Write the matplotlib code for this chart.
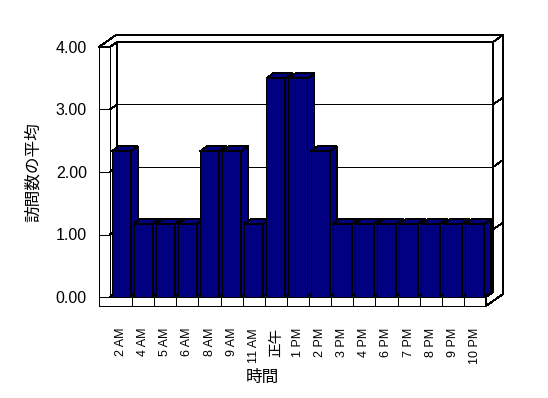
import matplotlib
matplotlib.use('Agg')
import matplotlib.pyplot as plt
from matplotlib.patches import Polygon
from matplotlib import font_manager

plt.rcParams['font.family'] = ['Liberation Sans', 'Noto Sans CJK JP', 'DejaVu Sans']

categories = ['2 AM', '4 AM', '5 AM', '6 AM', '8 AM', '9 AM', '11 AM', '正午',
              '1 PM', '2 PM', '3 PM', '4 PM', '6 PM', '7 PM', '8 PM', '9 PM', '10 PM']
values = [2.33, 1.17, 1.17, 1.17, 2.33, 2.33, 1.17, 3.5,
          3.5, 2.33, 1.17, 1.17, 1.17, 1.17, 1.17, 1.17, 1.17]
y_ticks = [0, 1, 2, 3, 4]
y_label = '訪問数の平均'
x_label = '時間'

names = {f.name for f in font_manager.fontManager.ttflist}
narrow = 'Liberation Sans Narrow' in names

W, H = 548, 398
fig = plt.figure(figsize=(W / 100, H / 100), dpi=100)
fig.patch.set_facecolor('white')
n = len(categories)
ax_l, ax_b, ax_w, ax_h = 110, 297, 376, 250  # pixels (bottom measured from top)
ax = fig.add_axes([ax_l / W, (H - ax_b) / H, ax_w / W, ax_h / H])
ax.set_xlim(-0.5, n - 0.5)
ax.set_ylim(y_ticks[0], y_ticks[-1])
for s in ax.spines.values():
    s.set_visible(False)
ax.patch.set_visible(False)

px_x = ax_w / n
px_y = ax_h / (y_ticks[-1] - y_ticks[0])
zf = (7 / px_x, 5 / px_y)      # depth of floor / bars
zb = (17 / px_x, 12 / px_y)    # depth including back-wall thickness
ft = 9 / px_y                  # floor thickness
X1 = -0.5
X0 = X1 - 11 / px_x
X2 = n - 0.5
YT = y_ticks[-1]

def P(x, y, d=(0, 0)):
    return (x + d[0], y + d[1])

LW = 0.7
navy = '#000080'

def poly(pts, fc, z):
    p = Polygon(pts, closed=True, facecolor=fc, edgecolor='black', linewidth=LW,
                zorder=z, clip_on=False, antialiased=False, joinstyle='miter')
    ax.add_patch(p)

def line(p1, p2, z=3):
    ax.plot([p1[0], p2[0]], [p1[1], p2[1]], color='black', linewidth=LW,
            zorder=z, clip_on=False, antialiased=False, solid_capstyle='butt')

# back wall front face
poly([P(X1, 0, zf), P(X2, 0, zf), P(X2, YT, zf), P(X1, YT, zf)], 'white', 1)
# top of left wall + back wall
poly([P(X0, YT), P(X1, YT), P(X1, YT, zf), P(X2, YT, zf), P(X2, YT, zb), P(X0, YT, zb)], 'white', 1)
# left wall inner face
poly([P(X1, 0), P(X1, YT), P(X1, YT, zf), P(X1, 0, zf)], 'white', 1)
# left wall front + floor front
poly([P(X0, YT), P(X0, -ft), P(X2, -ft), P(X2, 0), P(X1, 0), P(X1, YT)], 'white', 1)
# floor top
poly([P(X1, 0), P(X2, 0), P(X2, 0, zf), P(X1, 0, zf)], 'white', 1)
# right face
poly([P(X2, 0), P(X2, -ft), P(X2, -ft, zb), P(X2, YT, zb), P(X2, YT, zf), P(X2, 0, zf)], 'white', 1)

for yv in y_ticks:
    line(P(X0, yv), P(X1, yv))
    if 0 < yv < YT:
        line(P(X1, yv, zf), P(X2, yv, zf))
        line(P(X1, yv), P(X1, yv, zf))
        line(P(X2, yv, zf), P(X2, yv, zb))
for i in range(n - 1):
    line(P(i + 0.5, -ft), P(i + 0.5, 0))

# bars
bw = 0.86
bars = ax.bar(range(n), values, width=bw, color=navy, edgecolor='black',
              linewidth=LW, antialiased=False)
for i, (b, v) in enumerate(zip(bars, values)):
    z = 10 + i
    b.set_zorder(z)
    xl, xr = i - bw / 2, i + bw / 2
    poly([P(xr, 0), P(xr, v), P(xr, v, zf), P(xr, 0, zf)], navy, z)
    poly([P(xl, v), P(xr, v), P(xr, v, zf), P(xl, v, zf)], navy, z)

ax.set_yticks(y_ticks)
ax.set_yticklabels([f'{v:.2f}' for v in y_ticks], fontsize=11.5)
ax.tick_params(axis='y', length=0, pad=23 * 0.72)
ax.set_xticks(range(n))
xfam = (['Liberation Sans Narrow'] if narrow else []) + ['Liberation Sans', 'Noto Sans CJK JP']
ax.set_xticklabels(categories, rotation=90, fontsize=(11 if narrow else 9),
                   ha='center', va='top', family=xfam)
for lbl in ax.get_xticklabels():
    if lbl.get_text() == '正午':
        lbl.set_fontsize(10.5)
        lbl.set_family(['Noto Sans CJK JP'])
ax.tick_params(axis='x', length=0, pad=31 * 0.72)

fig.text(33 / W, 1 - 172 / H, y_label, rotation=90, ha='center', va='center',
         fontsize=12, family=['Noto Sans CJK JP'])
fig.text(262 / W, 1 - 377 / H, x_label, ha='center', va='center',
         fontsize=12, family=['Noto Sans CJK JP'])

fig.savefig('out.png', dpi=100, facecolor='white')
